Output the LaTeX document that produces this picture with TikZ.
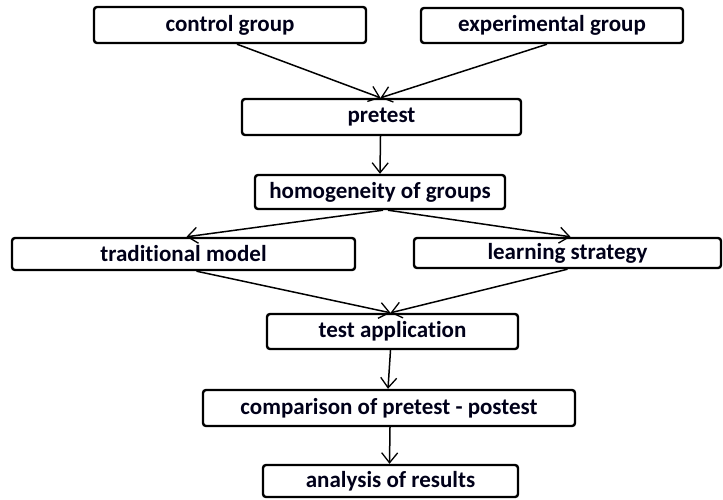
\documentclass[tikz,border=0pt]{standalone}
\usepackage{fontspec}
\setmainfont{Carlito}[Ligatures=NoCommon]
\usetikzlibrary{arrows.meta}
\begin{document}
\begin{tikzpicture}[x=1pt,y=-1pt,
  box/.style={draw=black, line width=2.4pt, rounded corners=3pt, inner sep=0pt,
    font=\bfseries\fontsize{23}{26}\selectfont, text=black!90!blue},
  conn/.style={line width=1.5pt, -{Straight Barb[length=10pt,width=16pt,line width=1.3pt]}}]
\useasboundingbox (0,0) rectangle (723,499);
\node[box, minimum width=272pt, minimum height=36pt] (cg) at (230,25) {control group};
\node[box, minimum width=262pt, minimum height=35pt] (eg) at (552,25.5) {experimental group};
\node[box, minimum width=279pt, minimum height=36pt] (pt) at (381.5,117) {pretest};
\node[box, minimum width=250pt, minimum height=34pt] (hg) at (380,192) {homogeneity of groups};
\node[box, minimum width=343pt, minimum height=32pt] (tm) at (183.5,254) {traditional model};
\node[box, minimum width=307pt, minimum height=30pt] (ls) at (567.5,253) {learning strategy};
\node[box, minimum width=251pt, minimum height=35pt] (ta) at (392.5,331.5) {test application};
\node[box, minimum width=372pt, minimum height=36pt] (cp) at (389,408) {comparison of pretest - postest};
\node[box, minimum width=255pt, minimum height=32pt] (an) at (390.5,481) {analysis of results};
\draw[conn] ([xshift=7pt]cg.south) -- ([xshift=-1pt]pt.north);
\draw[conn] ([xshift=-5pt]eg.south) -- ([xshift=-1pt]pt.north);
\draw[conn] ([xshift=-1pt]pt.south) -- (hg.north);
\draw[conn] ([xshift=3pt]hg.south) -- ([xshift=3pt]tm.north);
\draw[conn] ([xshift=8pt]hg.south) -- ([xshift=3pt]ls.north);
\draw[conn] ([xshift=13pt]tm.south) -- ([xshift=-2pt]ta.north);
\draw[conn] ([xshift=0pt]ls.south) -- ([xshift=-2pt]ta.north);
\draw[conn] ([xshift=-2pt]ta.south) -- ([xshift=-1pt]cp.north);
\draw[conn] ([xshift=1pt]cp.south) -- ([xshift=-1pt]an.north);
\end{tikzpicture}
\end{document}
